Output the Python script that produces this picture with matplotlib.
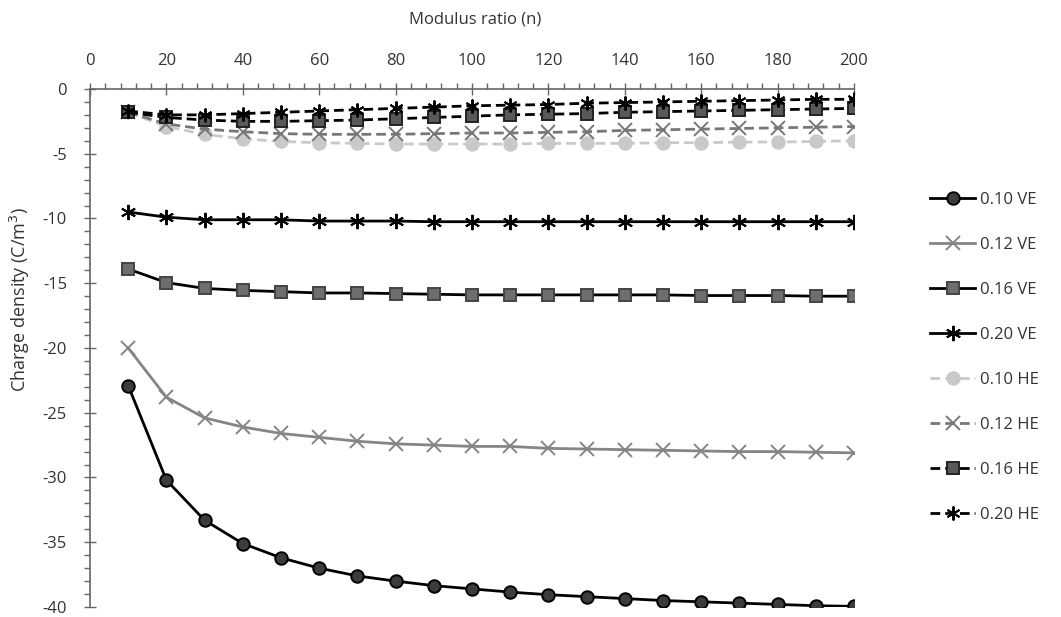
import matplotlib.pyplot as plt
from matplotlib.ticker import MultipleLocator

# modulus ratio n
n = [10, 20, 30, 40, 50, 60, 70, 80, 90, 100,
     110, 120, 130, 140, 150, 160, 170, 180, 190, 200]

# charge density (C/m3)
ve_010 = [-22.9, -30.2, -33.3, -35.1, -36.2, -37.0, -37.6, -38.0, -38.35, -38.6,
          -38.85, -39.05, -39.2, -39.35, -39.5, -39.6, -39.7, -39.8, -39.9, -39.95]
ve_012 = [-20.0, -23.8, -25.4, -26.1, -26.6, -26.9, -27.2, -27.4, -27.5, -27.6,
          -27.6, -27.75, -27.8, -27.85, -27.9, -27.95, -28.0, -28.0, -28.05, -28.1]
ve_016 = [-13.9, -14.95, -15.4, -15.55, -15.65, -15.75, -15.75, -15.8, -15.85, -15.9,
          -15.9, -15.9, -15.9, -15.9, -15.9, -15.95, -15.95, -15.95, -16.0, -16.0]
ve_020 = [-9.5, -9.9, -10.1, -10.1, -10.1, -10.2, -10.2, -10.2, -10.25, -10.25,
          -10.25, -10.25, -10.25, -10.25, -10.25, -10.25, -10.25, -10.25, -10.25, -10.25]
he_010 = [-1.8, -2.9, -3.5, -3.85, -4.05, -4.15, -4.2, -4.25, -4.25, -4.25,
          -4.25, -4.2, -4.2, -4.2, -4.15, -4.15, -4.1, -4.1, -4.05, -4.0]
he_012 = [-1.8, -2.7, -3.1, -3.3, -3.45, -3.5, -3.5, -3.5, -3.45, -3.4,
          -3.4, -3.35, -3.3, -3.2, -3.15, -3.1, -3.05, -3.0, -2.95, -2.9]
he_016 = [-1.8, -2.2, -2.4, -2.5, -2.5, -2.45, -2.4, -2.3, -2.2, -2.1,
          -2.0, -1.95, -1.9, -1.8, -1.75, -1.7, -1.65, -1.6, -1.55, -1.5]
he_020 = [-1.7, -2.0, -2.0, -1.9, -1.8, -1.7, -1.6, -1.5, -1.4, -1.3,
          -1.25, -1.2, -1.1, -1.05, -1.0, -0.95, -0.9, -0.85, -0.8, -0.8]

labels = ["0.10 VE", "0.12 VE", "0.16 VE", "0.20 VE",
          "0.10 HE", "0.12 HE", "0.16 HE", "0.20 HE"]

plt.rcParams["font.family"] = ["Open Sans", "DejaVu Sans"]
plt.rcParams["axes.unicode_minus"] = False
TXT = "#333333"
AST = (6, 2, 0)  # six-spoke asterisk
DASH = (3.5, 1.8)

fig = plt.figure(figsize=(10.61, 6.17), dpi=100)
ax = fig.add_axes([0.0848, 0.0162, 0.7201, 0.8396])

# series: values, line colour, marker, size, face, edge, dashed
styles = [
    (ve_010, "black", "o", 9, "#3c3c3c", "black", False),
    (ve_012, "#858585", "x", 10, "#858585", "#858585", False),
    (ve_016, "black", "s", 8.5, "#6e6e6e", "#444444", False),
    (ve_020, "black", AST, 11, "black", "black", False),
    (he_010, "#c9c9c9", "o", 9, "#c9c9c9", "#c9c9c9", True),
    (he_012, "#777777", "x", 10, "#777777", "#777777", True),
    (he_016, "black", "s", 9, "#595959", "#222222", True),
    (he_020, "black", AST, 10, "black", "black", True),
]

for (vals, col, mk, ms, fc, ec, dashed), lab in zip(styles, labels):
    line, = ax.plot(n, vals, color=col, lw=2, marker=mk, ms=ms,
                    mfc=fc, mec=ec, mew=1.4, label=lab)
    if dashed:
        line.set_dashes(DASH)

ax.set_xlim(0, 200)
ax.set_ylim(-40, 0)
ax.xaxis.set_major_locator(MultipleLocator(20))
ax.xaxis.set_minor_locator(MultipleLocator(4))
ax.yaxis.set_major_locator(MultipleLocator(5))
ax.yaxis.set_minor_locator(MultipleLocator(1))
ax.xaxis.tick_top()
ax.tick_params(axis="both", which="major", direction="inout", length=9,
               width=1, color="#666666", labelsize=12, labelcolor=TXT)
ax.tick_params(axis="both", which="minor", direction="out", length=4,
               width=1, color="#666666")
ax.tick_params(axis="x", which="major", pad=10)
ax.tick_params(axis="y", which="major", pad=12)

for side in ["right", "bottom"]:
    ax.spines[side].set_visible(False)
for side in ["left", "top"]:
    ax.spines[side].set_color("#666666")
    ax.spines[side].set_linewidth(1.2)

fig.text(0.4477, 0.969, "Modulus ratio (n)", ha="center", va="center",
         fontsize=12, color=TXT)
fig.text(0.019, 0.514, "Charge density (C/m$^3$)", ha="center", va="center",
         rotation=90, fontsize=13, color=TXT)

fig.legend(loc="center left", bbox_to_anchor=(0.877, 0.421), frameon=False,
           handlelength=2.7, handletextpad=0.25, labelspacing=1.74,
           numpoints=1, fontsize=12, labelcolor=TXT, borderaxespad=0,
           borderpad=0)

fig.savefig("out.png", dpi=100)
